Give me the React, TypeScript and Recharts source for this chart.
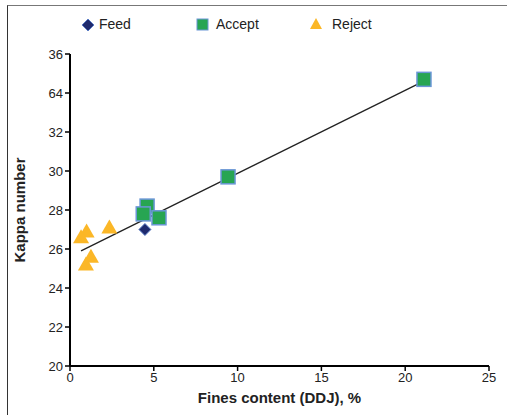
import { ScatterChart, Scatter, XAxis, YAxis, Label } from "recharts"

const feedX = [4.47]
const feedY = [27.0]
const acceptX = [4.6, 4.37, 5.31, 9.43, 21.12]
const acceptY = [28.2, 27.8, 27.6, 29.7, 34.7]
const rejectX = [0.99, 0.66, 1.25, 0.95, 2.35]
const rejectY = [26.9, 26.6, 25.6, 25.2, 27.1]
const trendX = [0.66, 21.2]
const trendY = [25.9, 34.65]
const xTicks = [0, 5, 10, 15, 20, 25]
const yTicks = [20, 22, 24, 26, 28, 30, 32, 34, 36]
const yTickLabels = ["20", "22", "24", "26", "28", "30", "32", "64", "36"]

const toPoints = (xs: number[], ys: number[]) => xs.map((x, i) => ({ x, y: ys[i] }))

const font = "'Liberation Sans', Arial, sans-serif"

const Diamond = ({ cx, cy }: any) => (
  <path d={`M${cx},${cy - 6} L${cx + 6},${cy} L${cx},${cy + 6} L${cx - 6},${cy} Z`} fill="#1f2a6e" stroke="#5a7cc4" strokeWidth={1} />
)
const Square = ({ cx, cy }: any) => (
  <rect x={cx - 7} y={cy - 7} width={14} height={14} fill="#27a552" stroke="#6a96d6" strokeWidth={1.5} />
)
const Triangle = ({ cx, cy }: any) => (
  <path d={`M${cx},${cy - 8} L${cx + 8},${cy + 6} L${cx - 8},${cy + 6} Z`} fill="#fbb727" />
)
const NoDot = () => null

export default function App() {
  return (
    <div style={{ position: "absolute", left: 0, top: 0, width: 507, height: 415, background: "#fff", fontFamily: font }}>
      <div style={{ position: "absolute", left: 7, top: 5, width: 500, height: 410, borderTop: "1.5px solid #777", borderLeft: "1.5px solid #333" }} />
      <div style={{ position: "absolute", top: 15, left: 0, width: 507, height: 20, fontSize: 14, color: "#222" }}>
        <svg style={{ position: "absolute", left: 81, top: 3 }} width={14} height={14}>
          <Diamond cx={7} cy={7} />
        </svg>
        <span style={{ position: "absolute", left: 99, top: 1 }}>Feed</span>
        <svg style={{ position: "absolute", left: 196, top: 3 }} width={14} height={14}>
          <rect x={1} y={1} width={11} height={11} fill="#27a552" stroke="#6a96d6" strokeWidth={1} />
        </svg>
        <span style={{ position: "absolute", left: 216, top: 1 }}>Accept</span>
        <svg style={{ position: "absolute", left: 309, top: 2 }} width={14} height={14}>
          <path d="M7,1 L13,12 L1,12 Z" fill="#fbb727" />
        </svg>
        <span style={{ position: "absolute", left: 332, top: 1 }}>Reject</span>
      </div>
      <ScatterChart width={507} height={415} margin={{ top: 54, right: 18, bottom: 19, left: 30 }} style={{ position: "absolute", left: 0, top: 0 }}>
        <XAxis
          type="number"
          dataKey="x"
          domain={[0, 25]}
          ticks={xTicks}
          height={30}
          axisLine={{ stroke: "#000", strokeWidth: 2 }}
          tickLine={{ stroke: "#000", strokeWidth: 1.5 }}
          tickSize={5}
          tick={{ fill: "#222", fontSize: 13, fontFamily: font }}
        >
          <Label value="Fines content (DDJ), %" position="bottom" offset={-4} style={{ fontWeight: "bold", fontSize: 15, fill: "#222", fontFamily: font }} />
        </XAxis>
        <YAxis
          type="number"
          dataKey="y"
          domain={[20, 36]}
          ticks={yTicks}
          width={40}
          interval={0}
          axisLine={{ stroke: "#000", strokeWidth: 2 }}
          tickLine={{ stroke: "#000", strokeWidth: 1.5 }}
          tickSize={5}
          tickFormatter={(v: number) => yTickLabels[yTicks.indexOf(v)] ?? String(v)}
          tick={{ fill: "#222", fontSize: 13, fontFamily: font }}
        >
          <Label value="Kappa number" angle={-90} position="insideLeft" offset={-10} style={{ textAnchor: "middle", fontWeight: "bold", fontSize: 15, fill: "#222", fontFamily: font }} />
        </YAxis>
        <Scatter data={toPoints(trendX, trendY)} line={{ stroke: "#222", strokeWidth: 1.3 }} shape={NoDot} isAnimationActive={false} />
        <Scatter data={toPoints(rejectX, rejectY)} shape={Triangle} isAnimationActive={false} />
        <Scatter data={toPoints(acceptX, acceptY)} shape={Square} isAnimationActive={false} />
        <Scatter data={toPoints(feedX, feedY)} shape={Diamond} isAnimationActive={false} />
      </ScatterChart>
    </div>
  )
}
